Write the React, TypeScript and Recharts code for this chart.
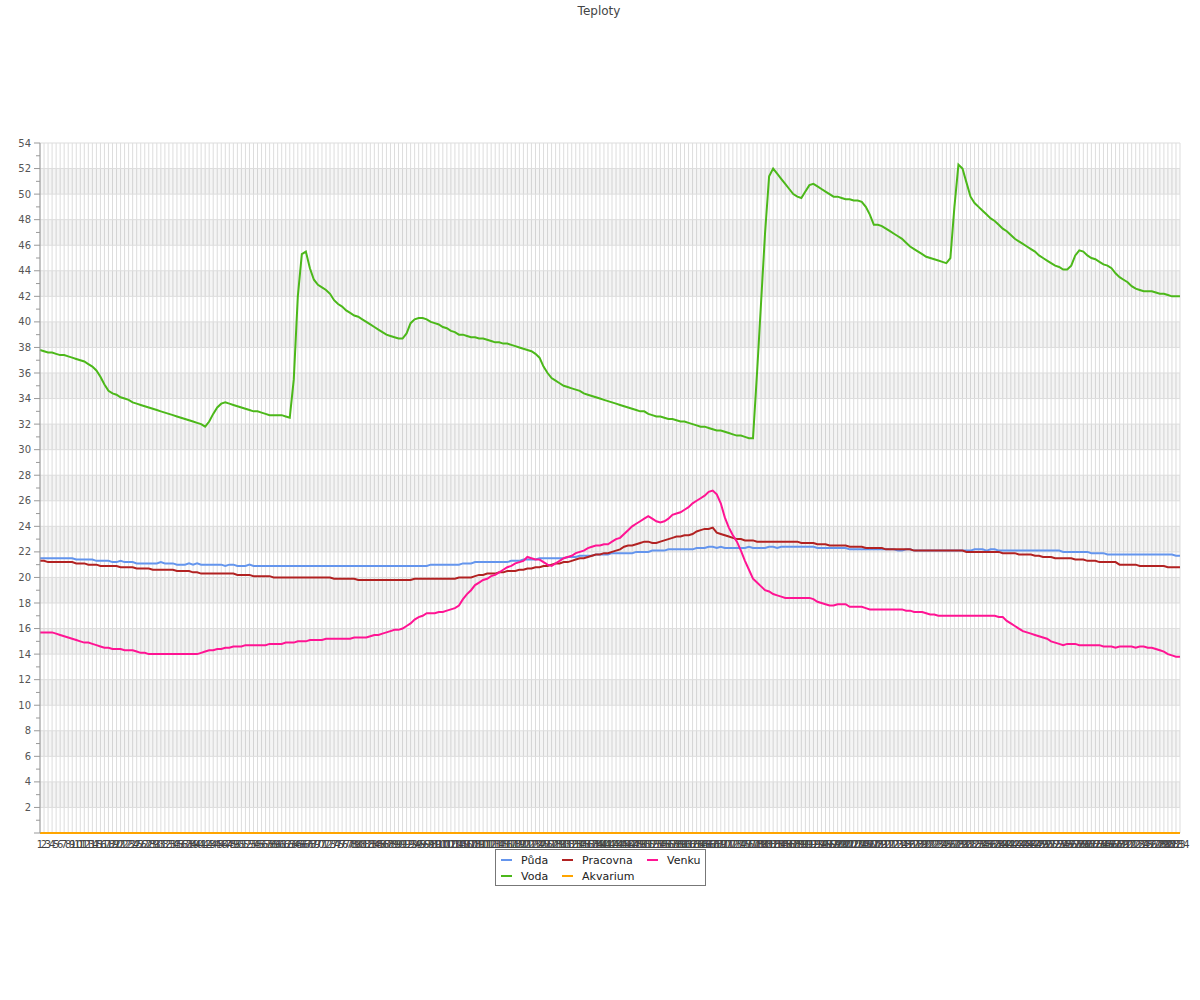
import React from 'react';
import { LineChart, Line, XAxis, YAxis, CartesianGrid, ReferenceArea, ReferenceLine } from 'recharts';

const puda = [
  21.5,21.5,21.5,21.5,21.5,21.5,21.5,21.5,21.5,21.4,
  21.4,21.4,21.4,21.4,21.3,21.3,21.3,21.3,21.2,21.2,
  21.3,21.2,21.2,21.2,21.1,21.1,21.1,21.1,21.1,21.1,
  21.2,21.1,21.1,21.1,21.0,21.0,21.0,21.1,21.0,21.1,
  21.0,21.0,21.0,21.0,21.0,21.0,20.9,21.0,21.0,20.9,
  20.9,20.9,21.0,20.9,20.9,20.9,20.9,20.9,20.9,20.9,
  20.9,20.9,20.9,20.9,20.9,20.9,20.9,20.9,20.9,20.9,
  20.9,20.9,20.9,20.9,20.9,20.9,20.9,20.9,20.9,20.9,
  20.9,20.9,20.9,20.9,20.9,20.9,20.9,20.9,20.9,20.9,
  20.9,20.9,20.9,20.9,20.9,20.9,20.9,21.0,21.0,21.0,
  21.0,21.0,21.0,21.0,21.0,21.1,21.1,21.1,21.2,21.2,
  21.2,21.2,21.2,21.2,21.2,21.2,21.2,21.3,21.3,21.3,
  21.4,21.4,21.4,21.4,21.5,21.5,21.5,21.5,21.5,21.5,
  21.5,21.6,21.6,21.6,21.7,21.7,21.7,21.7,21.8,21.8,
  21.8,21.8,21.9,21.9,21.9,21.9,21.9,21.9,22.0,22.0,
  22.0,22.0,22.1,22.1,22.1,22.1,22.2,22.2,22.2,22.2,
  22.2,22.2,22.2,22.3,22.3,22.3,22.4,22.4,22.3,22.4,
  22.3,22.3,22.3,22.3,22.3,22.3,22.4,22.3,22.3,22.3,
  22.3,22.4,22.4,22.3,22.4,22.4,22.4,22.4,22.4,22.4,
  22.4,22.4,22.4,22.3,22.3,22.3,22.3,22.3,22.3,22.3,
  22.3,22.2,22.2,22.2,22.2,22.2,22.2,22.2,22.2,22.2,
  22.2,22.2,22.2,22.1,22.1,22.2,22.2,22.1,22.1,22.1,
  22.1,22.1,22.1,22.1,22.1,22.1,22.1,22.1,22.1,22.1,
  22.1,22.1,22.2,22.2,22.2,22.1,22.2,22.2,22.1,22.1,
  22.1,22.1,22.1,22.1,22.1,22.1,22.1,22.1,22.1,22.1,
  22.1,22.1,22.1,22.1,22.0,22.0,22.0,22.0,22.0,22.0,
  22.0,21.9,21.9,21.9,21.9,21.8,21.8,21.8,21.8,21.8,
  21.8,21.8,21.8,21.8,21.8,21.8,21.8,21.8,21.8,21.8,
  21.8,21.8,21.7,21.7,
];

const voda = [
  37.8,37.7,37.6,37.6,37.5,37.4,37.4,37.3,37.2,37.1,
  37.0,36.9,36.7,36.5,36.2,35.7,35.1,34.6,34.4,34.3,
  34.1,34.0,33.9,33.7,33.6,33.5,33.4,33.3,33.2,33.1,
  33.0,32.9,32.8,32.7,32.6,32.5,32.4,32.3,32.2,32.1,
  32.0,31.8,32.2,32.8,33.3,33.6,33.7,33.6,33.5,33.4,
  33.3,33.2,33.1,33.0,33.0,32.9,32.8,32.7,32.7,32.7,
  32.7,32.6,32.5,35.5,42.0,45.3,45.5,44.2,43.3,42.9,
  42.7,42.5,42.2,41.7,41.4,41.2,40.9,40.7,40.5,40.4,
  40.2,40.0,39.8,39.6,39.4,39.2,39.0,38.9,38.8,38.7,
  38.7,39.1,39.9,40.2,40.3,40.3,40.2,40.0,39.9,39.8,
  39.6,39.5,39.3,39.2,39.0,39.0,38.9,38.8,38.8,38.7,
  38.7,38.6,38.5,38.4,38.4,38.3,38.3,38.2,38.1,38.0,
  37.9,37.8,37.7,37.5,37.2,36.5,36.0,35.6,35.4,35.2,
  35.0,34.9,34.8,34.7,34.6,34.4,34.3,34.2,34.1,34.0,
  33.9,33.8,33.7,33.6,33.5,33.4,33.3,33.2,33.1,33.0,
  33.0,32.8,32.7,32.6,32.6,32.5,32.4,32.4,32.3,32.2,
  32.2,32.1,32.0,31.9,31.8,31.8,31.7,31.6,31.5,31.5,
  31.4,31.3,31.2,31.1,31.1,31.0,30.9,30.9,36.0,41.5,
  47.0,51.4,52.0,51.6,51.2,50.8,50.4,50.0,49.8,49.7,
  50.2,50.7,50.8,50.6,50.4,50.2,50.0,49.8,49.8,49.7,
  49.6,49.6,49.5,49.5,49.4,49.0,48.4,47.6,47.6,47.5,
  47.3,47.1,46.9,46.7,46.5,46.2,45.9,45.7,45.5,45.3,
  45.1,45.0,44.9,44.8,44.7,44.6,45.0,49.0,52.3,52.0,
  50.9,49.8,49.3,49.0,48.7,48.4,48.1,47.9,47.6,47.3,
  47.1,46.8,46.5,46.3,46.1,45.9,45.7,45.5,45.2,45.0,
  44.8,44.6,44.4,44.3,44.1,44.1,44.4,45.2,45.6,45.5,
  45.2,45.0,44.9,44.7,44.5,44.4,44.2,43.8,43.5,43.3,
  43.1,42.8,42.6,42.5,42.4,42.4,42.4,42.3,42.2,42.2,
  42.1,42.0,42.0,42.0,
];

const pracovna = [
  21.3,21.3,21.2,21.2,21.2,21.2,21.2,21.2,21.2,21.1,
  21.1,21.1,21.0,21.0,21.0,20.9,20.9,20.9,20.9,20.9,
  20.8,20.8,20.8,20.8,20.7,20.7,20.7,20.7,20.6,20.6,
  20.6,20.6,20.6,20.6,20.5,20.5,20.5,20.5,20.4,20.4,
  20.3,20.3,20.3,20.3,20.3,20.3,20.3,20.3,20.3,20.2,
  20.2,20.2,20.2,20.1,20.1,20.1,20.1,20.1,20.0,20.0,
  20.0,20.0,20.0,20.0,20.0,20.0,20.0,20.0,20.0,20.0,
  20.0,20.0,20.0,19.9,19.9,19.9,19.9,19.9,19.9,19.8,
  19.8,19.8,19.8,19.8,19.8,19.8,19.8,19.8,19.8,19.8,
  19.8,19.8,19.8,19.9,19.9,19.9,19.9,19.9,19.9,19.9,
  19.9,19.9,19.9,19.9,20.0,20.0,20.0,20.0,20.1,20.2,
  20.2,20.3,20.3,20.3,20.4,20.4,20.5,20.5,20.5,20.6,
  20.6,20.7,20.7,20.8,20.8,20.9,20.9,21.0,21.1,21.1,
  21.2,21.2,21.3,21.4,21.5,21.5,21.6,21.7,21.8,21.8,
  21.9,21.9,22.0,22.1,22.2,22.4,22.5,22.5,22.6,22.7,
  22.8,22.8,22.7,22.7,22.8,22.9,23.0,23.1,23.2,23.2,
  23.3,23.3,23.4,23.6,23.7,23.8,23.8,23.9,23.5,23.4,
  23.3,23.2,23.1,23.0,23.0,22.9,22.9,22.9,22.8,22.8,
  22.8,22.8,22.8,22.8,22.8,22.8,22.8,22.8,22.8,22.7,
  22.7,22.7,22.7,22.6,22.6,22.6,22.5,22.5,22.5,22.5,
  22.5,22.4,22.4,22.4,22.4,22.3,22.3,22.3,22.3,22.3,
  22.2,22.2,22.2,22.2,22.2,22.2,22.2,22.1,22.1,22.1,
  22.1,22.1,22.1,22.1,22.1,22.1,22.1,22.1,22.1,22.1,
  22.0,22.0,22.0,22.0,22.0,22.0,22.0,22.0,22.0,21.9,
  21.9,21.9,21.9,21.8,21.8,21.8,21.8,21.7,21.7,21.6,
  21.6,21.6,21.5,21.5,21.5,21.5,21.5,21.4,21.4,21.4,
  21.3,21.3,21.3,21.2,21.2,21.2,21.2,21.2,21.0,21.0,
  21.0,21.0,21.0,20.9,20.9,20.9,20.9,20.9,20.9,20.9,
  20.8,20.8,20.8,20.8,
];

const akvarium = [
  0,0,0,0,0,0,0,0,0,0, 0,0,0,0,0,0,0,0,0,0, 0,0,0,0,0,0,0,0,0,0,
  0,0,0,0,0,0,0,0,0,0, 0,0,0,0,0,0,0,0,0,0, 0,0,0,0,0,0,0,0,0,0,
  0,0,0,0,0,0,0,0,0,0, 0,0,0,0,0,0,0,0,0,0, 0,0,0,0,0,0,0,0,0,0,
  0,0,0,0,0,0,0,0,0,0, 0,0,0,0,0,0,0,0,0,0, 0,0,0,0,0,0,0,0,0,0,
  0,0,0,0,0,0,0,0,0,0, 0,0,0,0,0,0,0,0,0,0, 0,0,0,0,0,0,0,0,0,0,
  0,0,0,0,0,0,0,0,0,0, 0,0,0,0,0,0,0,0,0,0, 0,0,0,0,0,0,0,0,0,0,
  0,0,0,0,0,0,0,0,0,0, 0,0,0,0,0,0,0,0,0,0, 0,0,0,0,0,0,0,0,0,0,
  0,0,0,0,0,0,0,0,0,0, 0,0,0,0,0,0,0,0,0,0, 0,0,0,0,0,0,0,0,0,0,
  0,0,0,0,0,0,0,0,0,0, 0,0,0,0,0,0,0,0,0,0, 0,0,0,0,0,0,0,0,0,0,
  0,0,0,0,0,0,0,0,0,0, 0,0,0,0,0,0,0,0,0,0, 0,0,0,0,0,0,0,0,0,0,
  0,0,0,0,0,0,0,0,0,0, 0,0,0,0,0,0,0,0,0,0, 0,0,0,0,0,0,0,0,0,0,
  0,0,0,0,0,0,0,0,0,0, 0,0,0,0,0,0,0,0,0,0, 0,0,0,0,0,0,0,0,0,0,
  0,0,0,0,0,0,0,0,0,0, 0,0,0,0,0,0,0,0,0,0, 0,0,0,0,0,0,0,0,0,0,
  0,0,0,0,0,0,0,0,0,0, 0,0,0,0,0,0,0,0,0,0, 0,0,0,0,0,0,0,0,0,0,
  0,0,0,0,0,0,0,0,0,0, 0,0,0,0,0,0,0,0,0,0, 0,0,0,0,0,0,0,0,0,0,
  0,0,0,0,0,0,0,0,0,0, 0,0,0,0,0,0,0,0,0,0, 0,0,0,0,0,0,0,0,0,0,
  0,0,0,0,0,0,0,0,0,0, 0,0,0,0,0,0,0,0,0,0, 0,0,0,0,0,0,0,0,0,0,
  0,0,0,0,0,0,0,0,0,0, 0,0,0,0,0,0,0,0,0,0, 0,0,0,0,0,0,0,0,0,0,
  0,0,0,0,0,0,0,0,0,0, 0,0,0,0,0,0,0,0,0,0, 0,0,0,0,0,0,0,0,0,0,
  0,0,0,0,0,0,0,0,0,0, 0,0,0,0,0,0,0,0,0,0, 0,0,0,0,0,0,0,0,0,0,
  0,0,0,0,0,0,0,0,0,0, 0,0,0,0,0,0,0,0,0,0, 0,0,0,0,0,0,0,0,0,0,
  0,0,0,0,0,0,0,0,0,0, 0,0,0,0,0,0,0,0,0,0, 0,0,0,0,0,0,0,0,0,0,
  0,0,0,0,0,0,0,0,0,0, 0,0,0,0,0,0,0,0,0,0, 0,0,0,0,0,0,0,0,0,0,
  0,0,0,0,0,0,0,0,0,0, 0,0,0,0,0,0,0,0,0,0, 0,0,0,0,0,0,0,0,0,0,
  0,0,0,0,0,0,0,0,0,0, 0,0,0,0,0,0,0,0,0,0, 0,0,0,0,0,0,0,0,0,0,
  0,0,0,0,0,0,0,0,0,0, 0,0,0,0,0,0,0,0,0,0, 0,0,0,0,0,0,0,0,0,0,
  0,0,0,0,0,0,0,0,0,0, 0,0,0,0,0,0,0,0,0,0, 0,0,0,0,0,0,0,0,0,0,
  0,0,0,0,0,0,0,0,0,0, 0,0,0,0,0,0,0,0,0,0, 0,0,0,0,0,0,0,0,0,0,
  0,0,0,0,
];

const venku = [
  15.7,15.7,15.7,15.7,15.6,15.5,15.4,15.3,15.2,15.1,
  15.0,14.9,14.9,14.8,14.7,14.6,14.5,14.5,14.4,14.4,
  14.4,14.3,14.3,14.3,14.2,14.1,14.1,14.0,14.0,14.0,
  14.0,14.0,14.0,14.0,14.0,14.0,14.0,14.0,14.0,14.0,
  14.1,14.2,14.3,14.3,14.4,14.4,14.5,14.5,14.6,14.6,
  14.6,14.7,14.7,14.7,14.7,14.7,14.7,14.8,14.8,14.8,
  14.8,14.9,14.9,14.9,15.0,15.0,15.0,15.1,15.1,15.1,
  15.1,15.2,15.2,15.2,15.2,15.2,15.2,15.2,15.3,15.3,
  15.3,15.3,15.4,15.5,15.5,15.6,15.7,15.8,15.9,15.9,
  16.0,16.2,16.4,16.7,16.9,17.0,17.2,17.2,17.2,17.3,
  17.3,17.4,17.5,17.6,17.8,18.3,18.7,19.0,19.4,19.6,
  19.8,19.9,20.1,20.2,20.4,20.6,20.8,20.9,21.1,21.2,
  21.3,21.6,21.5,21.4,21.4,21.2,21.0,20.9,21.1,21.3,
  21.5,21.6,21.7,21.9,22.0,22.1,22.3,22.4,22.5,22.5,
  22.6,22.6,22.8,23.0,23.1,23.4,23.7,24.0,24.2,24.4,
  24.6,24.8,24.6,24.4,24.3,24.4,24.6,24.9,25.0,25.1,
  25.3,25.5,25.8,26.0,26.2,26.4,26.7,26.8,26.5,25.8,
  24.7,23.9,23.3,22.8,22.1,21.3,20.6,19.9,19.6,19.3,
  19.0,18.9,18.7,18.6,18.5,18.4,18.4,18.4,18.4,18.4,
  18.4,18.4,18.3,18.1,18.0,17.9,17.8,17.8,17.9,17.9,
  17.9,17.7,17.7,17.7,17.7,17.6,17.5,17.5,17.5,17.5,
  17.5,17.5,17.5,17.5,17.5,17.4,17.4,17.3,17.3,17.3,
  17.2,17.1,17.1,17.0,17.0,17.0,17.0,17.0,17.0,17.0,
  17.0,17.0,17.0,17.0,17.0,17.0,17.0,17.0,16.9,16.9,
  16.6,16.4,16.2,16.0,15.8,15.7,15.6,15.5,15.4,15.3,
  15.2,15.0,14.9,14.8,14.7,14.8,14.8,14.8,14.7,14.7,
  14.7,14.7,14.7,14.7,14.6,14.6,14.6,14.5,14.6,14.6,
  14.6,14.6,14.5,14.6,14.6,14.5,14.5,14.4,14.3,14.2,
  14.0,13.9,13.8,13.8,
];

const categories = puda.map((_, i) => String(i + 1));
const yTickValues = [0,1,2,3,4,5,6,7,8,9,10,11,12,13,14,15,16,17,18,19,20,21,22,23,24,25,26,27,28,29,30,31,32,33,34,35,36,37,38,39,40,41,42,43,44,45,46,47,48,49,50,51,52,53,54];
const gridValues = [2,4,6,8,10,12,14,16,18,20,22,24,26,28,30,32,34,36,38,40,42,44,46,48,50,52,54];
const bandStarts = [2,6,10,14,18,22,26,30,34,38,42,46,50];

const seriesDefs = [
  { key: 'puda', name: 'Půda', color: '#6495ed' },
  { key: 'voda', name: 'Voda', color: '#4cb81a' },
  { key: 'pracovna', name: 'Pracovna', color: '#b22222' },
  { key: 'venku', name: 'Venku', color: '#ff1493' },
  { key: 'akvarium', name: 'Akvarium', color: '#ffa500' },
];

const data = categories.map((label, i) => ({
  label,
  puda: puda[i],
  voda: voda[i],
  pracovna: pracovna[i],
  akvarium: akvarium[i],
  venku: venku[i],
}));

const FONT = '"DejaVu Sans", sans-serif';

const YTick = (props: any) => {
  const { x, y, payload } = props;
  const v = payload.value;
  const major = v % 2 === 0;
  return (
    <g>
      <line x1={x + (major ? 2 : 4)} x2={x + 8} y1={y} y2={y} stroke="#999" strokeWidth={1} />
      {major && v > 0 ? (
        <text x={x - 1} y={y} dy={3.6} textAnchor="end" fontSize={10} fill="#555" fontFamily={FONT}>
          {v}
        </text>
      ) : null}
    </g>
  );
};

const legendItems = [
  { name: 'Půda', color: '#6495ed', left: 5, top: 0 },
  { name: 'Pracovna', color: '#b22222', left: 66, top: 0 },
  { name: 'Venku', color: '#ff1493', left: 151, top: 0 },
  { name: 'Voda', color: '#4cb81a', left: 5, top: 16 },
  { name: 'Akvarium', color: '#ffa500', left: 66, top: 16 },
];

export default function App() {
  return (
    <div style={{ position: 'absolute', left: 0, top: 0, width: 1200, height: 1000, background: '#fff', fontFamily: FONT }}>
      <div style={{ position: 'absolute', left: 0, top: 4, width: 1198, textAlign: 'center', fontSize: 12, lineHeight: '14px', color: '#444' }}>
        Teploty
      </div>
      <LineChart width={1200} height={1000} data={data} margin={{ top: 143, right: 20, bottom: 137, left: 0 }}>
        {bandStarts.map((b) => (
          <ReferenceArea key={'band' + b} y1={b} y2={b + 2} fill="#000" fillOpacity={0.045} stroke="none" ifOverflow="visible" />
        ))}
        <CartesianGrid horizontal={false} vertical={true} stroke="#dddddd" strokeWidth={1} />
        {gridValues.map((g) => (
          <ReferenceLine key={'grid' + g} y={g} stroke="#dddddd" strokeWidth={1} ifOverflow="visible" />
        ))}
        <XAxis
          dataKey="label"
          interval={0}
          tickLine={false}
          tickSize={4}
          tickMargin={4}
          height={30}
          axisLine={false}
          tick={{ fontSize: 10, fill: '#444', fontFamily: FONT }}
        />
        <YAxis
          width={40}
          domain={[0, 54]}
          ticks={yTickValues}
          interval={0}
          tickLine={false}
          tickSize={6}
          tickMargin={2}
          axisLine={{ stroke: '#999' }}
          tick={<YTick />}
        />
        {seriesDefs.map((s) => (
          <Line
            key={s.key}
            dataKey={s.key}
            name={s.name}
            stroke={s.color}
            strokeWidth={2}
            dot={false}
            activeDot={false}
            type="linear"
            isAnimationActive={false}
          />
        ))}
      </LineChart>
      <div
        style={{
          position: 'absolute',
          left: 495,
          top: 849,
          width: 209,
          height: 35,
          border: '1px solid #777',
          background: '#fff',
          fontSize: 11,
          color: '#222',
        }}
      >
        {legendItems.map((it) => (
          <div key={it.name} style={{ position: 'absolute', left: it.left, top: it.top + 4, height: 14, lineHeight: '14px', whiteSpace: 'nowrap' }}>
            <span style={{ display: 'inline-block', width: 11, height: 2, background: it.color, verticalAlign: 'middle', marginRight: 9, position: 'relative', top: -1 }} />
            <span>{it.name}</span>
          </div>
        ))}
      </div>
    </div>
  );
}
